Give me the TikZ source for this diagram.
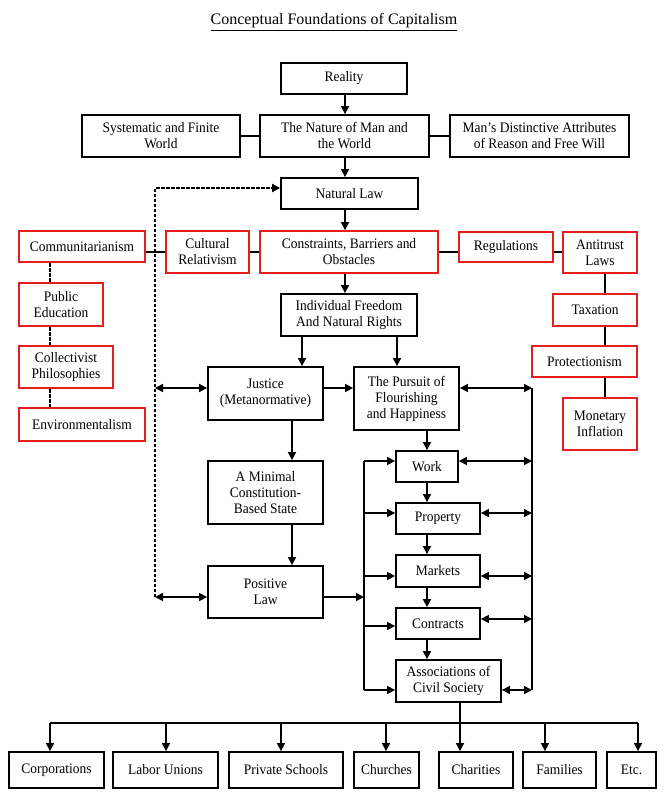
\documentclass[tikz,border=0pt]{standalone}
\usepackage{fontspec}
\setmainfont{Liberation Serif}
\newfontfamily\boxfont[FakeStretch=0.93]{Liberation Serif}
\usetikzlibrary{arrows.meta}
\definecolor{bred}{RGB}{230,30,30}
\begin{document}
\begin{tikzpicture}[x=1pt,y=-1pt,
  bx/.style={draw=black, line width=1.8pt, fill=white, inner sep=0pt, align=center, font=\boxfont\fontsize{14.5}{16}\selectfont},
  rbx/.style={bx, draw=bred},
  con/.style={line width=1.6pt},
  arr/.style={con, -{Triangle[length=8pt,width=8pt]}},
  darr/.style={con, {Triangle[length=8pt,width=8pt]}-{Triangle[length=8pt,width=8pt]}},
  dsh/.style={line width=2pt, dash pattern=on 3.5pt off 1.5pt},
  ldsh/.style={line width=1.4pt, dash pattern=on 4pt off 1pt}]
\useasboundingbox (0,0) rectangle (665,797);
\fill[white] (0,0) rectangle (665,797);

\node (title) at (334,22) {\fontsize{16}{19}\selectfont\underline{Conceptual Foundations of Capitalism}};

% top
\node[bx, minimum width=126pt, minimum height=31pt] (reality) at (344,78.5) {Reality};
\node[bx, minimum width=158pt, minimum height=42pt] (sys) at (161,136) {Systematic and Finite\\World};
\node[bx, minimum width=169pt, minimum height=42pt] (nature) at (344.5,136) {The Nature of Man and\\the World};
\node[bx, minimum width=179pt, minimum height=42pt] (mans) at (539.5,136) {Man’s Distinctive Attributes\\of Reason and Free Will};
\node[bx, minimum width=137pt, minimum height=31pt] (natlaw) at (349.5,193.5) {Natural Law};

% red row
\node[rbx, minimum width=126pt, minimum height=31pt] (comm) at (82,246.5) {Communitarianism};
\node[rbx, minimum width=83pt, minimum height=42pt] (cult) at (207.5,252) {Cultural\\Relativism};
\node[rbx, minimum width=178pt, minimum height=42pt] (constr) at (349,252) {Constraints, Barriers and\\Obstacles};
\node[rbx, minimum width=94pt, minimum height=30pt] (reg) at (506,247) {Regulations};
\node[rbx, minimum width=74pt, minimum height=41pt] (anti) at (600,252.5) {Antitrust\\Laws};

% left column
\node[rbx, minimum width=84pt, minimum height=43pt] (pub) at (61,304.5) {Public\\Education};
\node[rbx, minimum width=94pt, minimum height=42pt] (coll) at (66,367) {Collectivist\\Philosophies};
\node[rbx, minimum width=126pt, minimum height=33pt] (env) at (82,424.5) {Environmentalism};

% right column
\node[rbx, minimum width=84pt, minimum height=32pt] (tax) at (595,310) {Taxation};
\node[rbx, minimum width=105pt, minimum height=31pt] (prot) at (584.5,361.5) {Protectionism};
\node[rbx, minimum width=74pt, minimum height=52pt] (mon) at (600,424) {Monetary\\Inflation};

% middle
\node[bx, minimum width=136pt, minimum height=42pt] (indiv) at (349,315) {Individual Freedom\\And Natural Rights};
\node[bx, minimum width=115pt, minimum height=53pt] (justice) at (265.5,393.5) {Justice\\(Metanormative)};
\node[bx, minimum width=105pt, minimum height=63pt] (pursuit) at (406.5,398.5) {The Pursuit of\\Flourishing\\and Happiness};
\node[bx, minimum width=115pt, minimum height=63pt] (minimal) at (265.5,492.5) {A Minimal\\Constitution-\\Based State};
\node[bx, minimum width=115pt, minimum height=52pt] (positive) at (265.5,592) {Positive\\Law};

\node[bx, minimum width=62pt, minimum height=31pt] (work) at (427,466.5) {Work};
\node[bx, minimum width=84pt, minimum height=31pt] (prop) at (438,518.5) {Property};
\node[bx, minimum width=84pt, minimum height=32pt] (mark) at (438,571) {Markets};
\node[bx, minimum width=84pt, minimum height=31pt] (contr) at (438,623.5) {Contracts};
\node[bx, minimum width=105pt, minimum height=42pt] (assoc) at (448.5,681) {Associations of\\Civil Society};

% bottom row
\node[bx, minimum width=95pt, minimum height=36pt] (corp) at (56.5,770) {Corporations};
\node[bx, minimum width=105pt, minimum height=36pt] (labor) at (165.5,770) {Labor Unions};
\node[bx, minimum width=114pt, minimum height=36pt] (priv) at (286,770) {Private Schools};
\node[bx, minimum width=65pt, minimum height=36pt] (church) at (386.5,770) {Churches};
\node[bx, minimum width=74pt, minimum height=36pt] (char) at (476,770) {Charities};
\node[bx, minimum width=73pt, minimum height=36pt] (fam) at (559.5,770) {Families};
\node[bx, minimum width=49pt, minimum height=36pt] (etc) at (631.5,770) {Etc.};

% helper coordinates
\coordinate (sp) at (345,0);
\coordinate (ja) at (302,0);
\coordinate (pa) at (397,0);
\coordinate (ma) at (292,0);
\coordinate (wa) at (427,0);
\coordinate (rowy) at (0,252);
\coordinate (lc) at (50,0);
\coordinate (rc) at (605,0);
\coordinate (dT) at (155,188);
\coordinate (dJ) at (155,388);
\coordinate (dP) at (155,597);
\coordinate (lb1) at (364,461);
\coordinate (lb2) at (364,513);
\coordinate (lb3) at (364,576);
\coordinate (lb4) at (364,626);
\coordinate (lb5) at (364,690);
\coordinate (lbp) at (364,597);
\coordinate (rb0) at (532,388);
\coordinate (rb1) at (532,461);
\coordinate (rb2) at (532,513);
\coordinate (rb3) at (532,576);
\coordinate (rb4) at (532,619);
\coordinate (rb5) at (532,690);
\coordinate (h1) at (50,723);
\coordinate (h2) at (166,723);
\coordinate (h3) at (281,723);
\coordinate (h4) at (386,723);
\coordinate (hc) at (460,723);
\coordinate (h6) at (545,723);
\coordinate (h7) at (638,723);

% spine
\draw[arr] (sp |- reality.south) -- (sp |- nature.north);
\draw[arr] (sp |- nature.south) -- (sp |- natlaw.north);
\draw[arr] (sp |- natlaw.south) -- (sp |- constr.north);
\draw[arr] (sp |- constr.south) -- (sp |- indiv.north);
\draw[con] (sys.east) -- (nature.west);
\draw[con] (nature.east) -- (mans.west);

% red row links
\draw[con] (rowy -| comm.east) -- (rowy -| cult.west);
\draw[con] (rowy -| cult.east) -- (rowy -| constr.west);
\draw[con] (rowy -| constr.east) -- (rowy -| reg.west);
\draw[con] (rowy -| reg.east) -- (rowy -| anti.west);

% columns
\draw[ldsh] (lc |- comm.south) -- (lc |- pub.north);
\draw[ldsh] (lc |- pub.south) -- (lc |- coll.north);
\draw[ldsh] (lc |- coll.south) -- (lc |- env.north);
\draw[con] (rc |- anti.south) -- (rc |- tax.north);
\draw[con] (rc |- tax.south) -- (rc |- prot.north);
\draw[con] (rc |- prot.south) -- (rc |- mon.north);

% dashed feedback
\draw[dsh, -{Triangle[length=8pt,width=8pt]}] (dP) -- (dT) -- (dT -| natlaw.west);
\draw[darr] (dJ) -- (dJ -| justice.west);
\draw[darr] (dP) -- (dP -| positive.west);

% middle flow
\draw[arr] (ja |- indiv.south) -- (ja |- justice.north);
\draw[arr] (pa |- indiv.south) -- (pa |- pursuit.north);
\draw[arr] (justice.east |- dJ) -- (pursuit.west |- dJ);
\draw[arr] (ma |- justice.south) -- (ma |- minimal.north);
\draw[arr] (ma |- minimal.south) -- (ma |- positive.north);
\draw[arr] (positive.east |- lbp) -- (lbp);

\draw[arr] (wa |- pursuit.south) -- (wa |- work.north);
\draw[arr] (wa |- work.south) -- (wa |- prop.north);
\draw[arr] (wa |- prop.south) -- (wa |- mark.north);
\draw[arr] (wa |- mark.south) -- (wa |- contr.north);
\draw[arr] (wa |- contr.south) -- (wa |- assoc.north);

% left bus
\draw[con] (lb1) -- (lb5);
\draw[arr] (lb1) -- (lb1 -| work.west);
\draw[arr] (lb2) -- (lb2 -| prop.west);
\draw[arr] (lb3) -- (lb3 -| mark.west);
\draw[arr] (lb4) -- (lb4 -| contr.west);
\draw[arr] (lb5) -- (lb5 -| assoc.west);

% right bus
\draw[con] (rb0) -- (rb5);
\draw[darr] (pursuit.east |- rb0) -- (rb0);
\draw[darr] (work.east |- rb1) -- (rb1);
\draw[darr] (prop.east |- rb2) -- (rb2);
\draw[darr] (mark.east |- rb3) -- (rb3);
\draw[darr] (contr.east |- rb4) -- (rb4);
\draw[darr] (assoc.east |- rb5) -- (rb5);

% bottom tree
\draw[con] (h1) -- (h7);
\draw[arr] (hc |- assoc.south) -- (hc |- char.north);
\draw[arr] (h1) -- (h1 |- corp.north);
\draw[arr] (h2) -- (h2 |- labor.north);
\draw[arr] (h3) -- (h3 |- priv.north);
\draw[arr] (h4) -- (h4 |- church.north);
\draw[arr] (h6) -- (h6 |- fam.north);
\draw[arr] (h7) -- (h7 |- etc.north);
\end{tikzpicture}
\end{document}
